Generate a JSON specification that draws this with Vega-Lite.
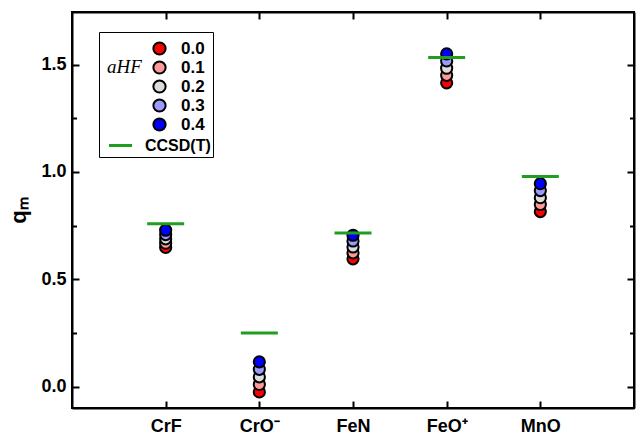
{
  "$schema": "https://vega.github.io/schema/vega-lite/v6.json",
  "width": 562,
  "height": 396,
  "autosize": {"type": "none"},
  "padding": {"left": 72, "top": 12, "right": 3, "bottom": 31},
  "config": {
    "font": "Liberation Sans",
    "view": {"stroke": "black", "strokeWidth": 2},
    "axis": {
      "domainColor": "black", "domainWidth": 2,
      "tickColor": "black", "tickWidth": 2,
      "labelFont": "Liberation Sans", "labelFontWeight": "bold", "labelFontSize": 18, "labelColor": "black",
      "grid": false, "titleColor": "black"
    }
  },
  "datasets": {
    "points": [
      {"molecule": "CrF", "aHF": "0.0", "q": 0.648},
      {"molecule": "CrF", "aHF": "0.1", "q": 0.668},
      {"molecule": "CrF", "aHF": "0.2", "q": 0.688},
      {"molecule": "CrF", "aHF": "0.3", "q": 0.708},
      {"molecule": "CrF", "aHF": "0.4", "q": 0.728},
      {"molecule": "CrO⁻", "aHF": "0.0", "q": -0.025},
      {"molecule": "CrO⁻", "aHF": "0.1", "q": 0.01},
      {"molecule": "CrO⁻", "aHF": "0.2", "q": 0.045},
      {"molecule": "CrO⁻", "aHF": "0.3", "q": 0.08},
      {"molecule": "CrO⁻", "aHF": "0.4", "q": 0.115},
      {"molecule": "FeN", "aHF": "0.0", "q": 0.595},
      {"molecule": "FeN", "aHF": "0.1", "q": 0.623},
      {"molecule": "FeN", "aHF": "0.2", "q": 0.65},
      {"molecule": "FeN", "aHF": "0.3", "q": 0.678},
      {"molecule": "FeN", "aHF": "0.4", "q": 0.705},
      {"molecule": "FeO⁺", "aHF": "0.0", "q": 1.415},
      {"molecule": "FeO⁺", "aHF": "0.1", "q": 1.45},
      {"molecule": "FeO⁺", "aHF": "0.2", "q": 1.483},
      {"molecule": "FeO⁺", "aHF": "0.3", "q": 1.517},
      {"molecule": "FeO⁺", "aHF": "0.4", "q": 1.55},
      {"molecule": "MnO", "aHF": "0.0", "q": 0.815},
      {"molecule": "MnO", "aHF": "0.1", "q": 0.848},
      {"molecule": "MnO", "aHF": "0.2", "q": 0.88},
      {"molecule": "MnO", "aHF": "0.3", "q": 0.913},
      {"molecule": "MnO", "aHF": "0.4", "q": 0.945}
    ],
    "ref": [
      {"molecule": "CrF", "method": "CCSD(T)", "q": 0.758},
      {"molecule": "CrO⁻", "method": "CCSD(T)", "q": 0.25},
      {"molecule": "FeN", "method": "CCSD(T)", "q": 0.715},
      {"molecule": "FeO⁺", "method": "CCSD(T)", "q": 1.533},
      {"molecule": "MnO", "method": "CCSD(T)", "q": 0.979}
    ]
  },
  "layer": [
    {
      "data": {"name": "points"},
      "mark": {"type": "point", "filled": true, "shape": "circle", "size": 125, "stroke": "black", "strokeWidth": 2, "opacity": 1},
      "encoding": {
        "x": {
          "field": "molecule", "type": "nominal",
          "scale": {"type": "point", "domain": ["CrF", "CrO⁻", "FeN", "FeO⁺", "MnO"], "padding": 1},
          "axis": {"orient": "bottom", "title": null, "tickSize": -7, "labelPadding": 16, "labelAngle": 0}
        },
        "y": {
          "field": "q", "type": "quantitative",
          "scale": {"domain": [-0.1, 1.745], "nice": false, "zero": false},
          "axis": {
            "orient": "left",
            "values": [0, 0.25, 0.5, 0.75, 1, 1.25, 1.5],
            "labelExpr": "datum.value % 0.5 == 0 ? format(datum.value, '.1f') : ''",
            "tickSize": {"condition": {"test": "datum.value % 0.5 != 0", "value": -4.5}, "value": -7},
            "labelPadding": 13,
            "title": "qₘ", "titleFontSize": 22, "titleFontWeight": "bold", "titlePadding": 10
          }
        },
        "fill": {
          "field": "aHF", "type": "nominal",
          "scale": {"domain": ["0.0", "0.1", "0.2", "0.3", "0.4"], "range": ["#ff0000", "#ff9a9a", "#dcdcdc", "#9a9aff", "#0000ff"]},
          "legend": {
            "orient": "none", "legendX": 27, "legendY": 20,
            "title": [" ", " ", " ", "aHF", " ", " "],
            "titleOrient": "left", "titleAnchor": "start", "titleBaseline": "top",
            "titleFont": "Liberation Serif", "titleFontStyle": "italic", "titleFontWeight": "normal",
            "titleFontSize": 19, "titleLineHeight": 18, "titlePadding": 9, "titleColor": "black",
            "strokeColor": "black", "padding": 8,
            "symbolType": "circle", "symbolSize": 150, "symbolStrokeColor": "black", "symbolStrokeWidth": 2,
            "labelFont": "Liberation Sans", "labelFontWeight": "bold", "labelFontSize": 17, "labelColor": "black",
            "labelOffset": 13, "rowPadding": -2,
            "encode": {
              "legend": {"update": {"strokeWidth": {"value": 2}}},
              "title": {"update": {"dy": {"value": 12}}}
            }
          }
        }
      }
    },
    {
      "data": {"name": "ref"},
      "mark": {"type": "rule", "strokeWidth": 3, "xOffset": -18.5, "x2Offset": 18.5},
      "encoding": {
        "x": {"field": "molecule", "type": "nominal", "axis": {"orient": "top", "labels": false, "title": null, "tickSize": -7}},
        "x2": {"field": "molecule"},
        "y": {
          "field": "q", "type": "quantitative",
          "axis": {
            "orient": "right", "labels": false, "title": null,
            "values": [0, 0.25, 0.5, 0.75, 1, 1.25, 1.5],
            "tickSize": {"condition": {"test": "datum.value % 0.5 != 0", "value": -4.5}, "value": -7}
          }
        },
        "color": {
          "field": "method", "type": "nominal",
          "scale": {"domain": ["CCSD(T)"], "range": ["#1f9e1f"]},
          "legend": {
            "orient": "none", "legendX": 35, "legendY": 120,
            "title": null, "padding": 0,
            "symbolType": "stroke", "symbolSize": 530, "symbolStrokeWidth": 3,
            "labelFont": "Liberation Sans", "labelFontWeight": "bold", "labelFontSize": 16, "labelColor": "black",
            "labelOffset": 11
          }
        }
      }
    }
  ],
  "resolve": {"axis": {"x": "independent", "y": "independent"}}
}
